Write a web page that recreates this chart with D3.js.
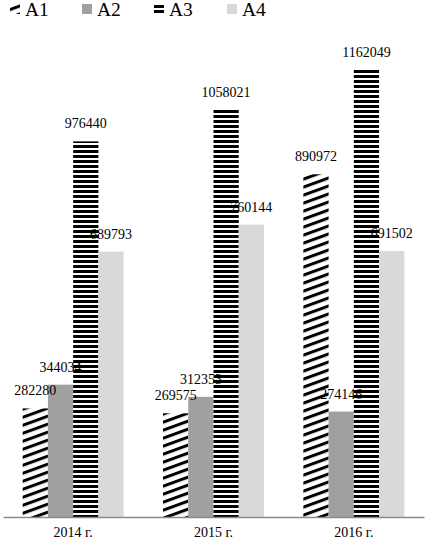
<!DOCTYPE html>
<html>
<head>
<meta charset="utf-8">
<script src="https://cdn.jsdelivr.net/npm/d3@7"></script>
<style>
  html, body { margin: 0; padding: 0; background: #fff; }
  svg { display: block; }
</style>
</head>
<body>
<svg id="chart" width="427" height="540"></svg>
<script>
const categories = ["2014 г.", "2015 г.", "2016 г."];
const seriesNames = ["A1", "A2", "A3", "A4"];
const A1 = [282280, 269575, 890972];
const A2 = [344034, 312353, 274146];
const A3 = [976440, 1058021, 1162049];
const A4 = [689793, 760144, 691502];
const seriesValues = [A1, A2, A3, A4];
const yMax = 1200000;

const FONT = "'Liberation Serif', 'Times New Roman', Times, serif";

const svg = d3.select("#chart");
const defs = svg.append("defs");

// diagonal stripes (A1)
const pd = defs.append("pattern").attr("id", "pDiag")
  .attr("patternUnits", "userSpaceOnUse")
  .attr("width", 10).attr("height", 8)
  .attr("patternTransform", "skewY(-20)");
pd.append("rect").attr("width", 10).attr("height", 8).attr("fill", "#fff");
pd.append("rect").attr("y", 0).attr("width", 10).attr("height", 3.2).attr("fill", "#000");

// horizontal stripes (A3)
const ph = defs.append("pattern").attr("id", "pHoriz")
  .attr("patternUnits", "userSpaceOnUse")
  .attr("width", 4).attr("height", 5);
ph.append("rect").attr("width", 4).attr("height", 5).attr("fill", "#fff");
ph.append("rect").attr("y", 0).attr("width", 4).attr("height", 3).attr("fill", "#000");

const fills = ["url(#pDiag)", "#a0a0a0", "url(#pHoriz)", "#d9d9d9"];

const x0 = d3.scaleBand().domain(categories).range([3, 424]).paddingInner(0).paddingOuter(0);
const x1 = d3.scaleBand().domain(seriesNames).range([0, x0.bandwidth()]).paddingInner(0).paddingOuter(0.78);
const y = d3.scaleLinear().domain([0, yMax]).range([517, 55.4]);

const rows = [];
categories.forEach((c, i) => {
  seriesNames.forEach((s, j) => {
    rows.push({ cat: c, series: s, j: j, value: seriesValues[j][i] });
  });
});

const g = svg.append("g");
g.selectAll("rect.bar").data(rows).enter().append("rect")
  .attr("class", "bar")
  .attr("x", d => x0(d.cat) + x1(d.series))
  .attr("y", d => y(d.value))
  .attr("width", x1.bandwidth())
  .attr("height", d => y(0) - y(d.value))
  .attr("fill", d => fills[d.j]);

g.selectAll("text.lbl").data(rows).enter().append("text")
  .attr("class", "lbl")
  .attr("x", d => x0(d.cat) + x1(d.series) + x1.bandwidth() / 2)
  .attr("y", d => y(d.value) - 13)
  .attr("text-anchor", "middle")
  .style("font-family", FONT)
  .style("font-size", "14px")
  .attr("fill", "#000")
  .text(d => d.value);

const axis = svg.append("g").attr("transform", "translate(0,517)")
  .call(d3.axisBottom(x0).tickSize(0).tickPadding(10));
axis.select(".domain").attr("stroke", "#8a8a8a").attr("stroke-width", 1.5);
axis.selectAll("text").attr("fill", "#000")
  .style("font-family", FONT).style("font-size", "14px");

// legend
const legendX = [10, 82, 154, 227];
const leg = svg.append("g");
seriesNames.forEach((s, j) => {
  const it = leg.append("g").attr("transform", `translate(${legendX[j]},0)`);
  it.append("rect").attr("x", 0).attr("y", 4).attr("width", 10).attr("height", 10).attr("fill", fills[j]);
  it.append("text").attr("x", 15).attr("y", 16)
    .style("font-family", FONT).style("font-size", "19.5px")
    .attr("fill", "#000").text(s);
});
</script>
</body>
</html>
